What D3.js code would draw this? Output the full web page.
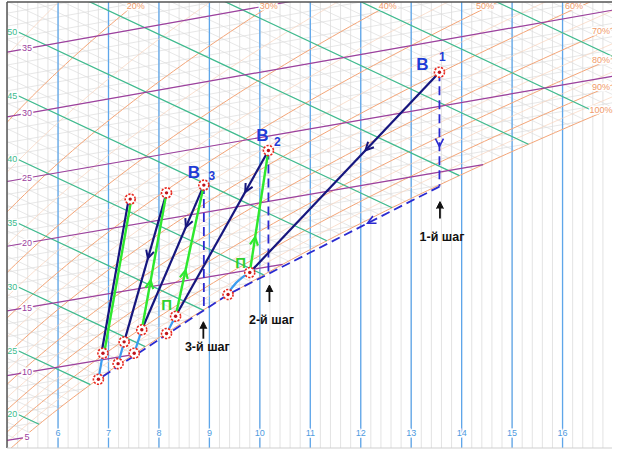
<!DOCTYPE html>
<html><head><meta charset="utf-8">
<script src="https://cdn.jsdelivr.net/npm/d3@7/dist/d3.min.js"></script>
<style>body{margin:0;background:#fff}svg{display:block}</style>
</head><body>
<svg id="c" width="624" height="452"></svg>
<script>
// ---------------- data ----------------
const moistureTicks = [6,7,8,9,10,11,12,13,14,15,16];           // d, g/kg
const tempLabels = [5,10,15,20,25,30,35];                         // t, °C
const enthalpyLabels = [20,25,30,35,40,45,50];                    // i, kJ/kg
const rhTopLabels = [20,30,40,50,60];                             // %
const rhSideLabels = [70,80,90,100];                              // %
// process state points: moisture content d (g/kg) and temperature t (°C)
const pointNames = ["B1","B2","B3","P4","P5","П1","П2","П3","П4","П5","S1","S2","S3","S4","S5","C1","V2","V3"];
const pointD = [13.56,10.17,8.89,8.15,7.43, 9.80,8.33,7.66,7.31,6.89, 9.37,8.15,7.51,7.19,6.80, 13.56,10.17,8.89];
const pointT = [27.6,23.9,22.1,22.0,22.0, 14.8,12.4,11.8,11.1,10.5, 13.4,11.2,10.1,9.5,8.55, 18.9,14.4,12.5];
const markerNames = ["B1","B2","B3","P4","P5","П1","П2","П3","П4","П5","S1","S2","S3","S4","S5"];
// [from, to, arrow position along segment]
const coolingLines = [["B1","П1",0.39],["B2","П2",0.25],["B3","П3",0.29],["P4","П4",0.44],["P5","П5",null]];
const heatingLines = [["П1","B2",0.29],["П2","B3",0.35],["П3","P4",0.36],["П5","P5",null]];
const humidLines = [["S1","П1"],["S2","П2"],["S3","П3"],["S4","П4"],["S5","П5"]];
const dashedPath = ["C1","S1","S5"];
const dashedVerticals = [["B1","C1",0.65],["B2","V2",null],["B3","V3",null]];
const stepNames = ["1-й шаг","2-й шаг","3-й шаг"];
const stepD = [13.57,10.19,8.88];
const stepT = [17.75,13.59,11.63];

// ---------------- psychrometrics ----------------
const P = 101.325;
const psat = t => 0.6112*Math.exp(17.62*t/(243.12+t));
const enth = (t,d) => 1.006*t + d*(2501+1.86*t)/1000;
const tOf = (i,d) => (i - 2.501*d)/(1.006 + 0.00186*d);
function dRH(t,phi){
  const ps = psat(t-0.25);
  const dPhi = 622*phi*ps/(P - phi*ps), dMu = 622*phi*ps/(P - ps);
  return 1.3*dPhi - 0.3*dMu;
}
const dSat = t => dRH(t,1);
const K = 1.86;

const x = d3.scaleLinear().domain([5,17]).range([7.6, 7.6+12*50.45]);
const y = d3.scaleLinear().domain([0,40]).range([545.9, 545.9-40*12.75]);
const pT = (d,t) => [x(d), y(enth(t,d) - K*d)];
const pI = (d,i) => [x(d), y(i - K*d)];
const pt = {};
pointNames.forEach((n,k)=> pt[n] = pT(pointD[k], pointT[k]));

function dSatForI(i){
  let lo=0, hi=40;
  for(let k=0;k<60;k++){const m=(lo+hi)/2; if(dSat(tOf(i,m))>m) lo=m; else hi=m;}
  return lo;
}

const svg = d3.select("#c");
svg.append("rect").attr("width",624).attr("height",452).attr("fill","#fff");
svg.append("defs").append("clipPath").attr("id","plot")
  .append("rect").attr("x",7).attr("y",2).attr("width",605).attr("height",446);
const g = svg.append("g").attr("clip-path","url(#plot)");
const line = d3.line();
const Y0 = 2, Y1 = 448;

d3.range(25,86).map(k=>k/5).forEach(d=>{
  g.append("line").attr("x1",x(d)).attr("x2",x(d)).attr("y1",Y0).attr("y2",Y1)
   .attr("stroke","#dcdcdc").attr("stroke-width",0.8);
});
d3.range(-5,51).forEach(t=>{
  const d1 = Math.min(17.5, dSat(t)); if(d1<4.5) return;
  g.append("path").attr("d",line([pT(4.5,t),pT(d1,t)])).attr("fill","none")
   .attr("stroke","#dcdcdc").attr("stroke-width",0.7);
});
d3.range(0,110).forEach(i=>{
  const d1 = Math.min(17.5,dSatForI(i)); if(d1<4.5) return;
  g.append("path").attr("d",line([pI(4.5,i),pI(d1,i)])).attr("fill","none")
   .attr("stroke","#dcdcdc").attr("stroke-width",0.7);
});
moistureTicks.forEach(d=>{
  g.append("line").attr("x1",x(d)).attr("x2",x(d)).attr("y1",Y0).attr("y2",Y1)
   .attr("stroke","#5ea6ea").attr("stroke-width",1.3);
});
function rhPath(phi){
  return d3.range(-10,60,0.25).map(t=>pT(dRH(t,phi/100),t));
}
d3.range(15,100,10).forEach(phi=>{
  g.append("path").attr("d",line(rhPath(phi))).attr("fill","none")
   .attr("stroke","#f8d2bc").attr("stroke-width",0.7);
});
d3.range(10,101,10).forEach(phi=>{
  g.append("path").attr("d",line(rhPath(phi))).attr("fill","none")
   .attr("stroke","#f4a679").attr("stroke-width",1);
});
d3.range(10,101,5).forEach(i=>{
  const d1 = Math.min(17.5,dSatForI(i)); if(d1<5.22) return;
  g.append("path").attr("d",line([pI(5.22,i),pI(d1,i)])).attr("fill","none")
   .attr("stroke","#3dbb8e").attr("stroke-width",1.2);
});
d3.range(0,51,5).forEach(t=>{
  const d1 = Math.min(17.5,dSat(t)); if(d1<4.5) return;
  g.append("path").attr("d",line([pT(4.5,t),pT(d1,t)])).attr("fill","none")
   .attr("stroke","#9c3f9e").attr("stroke-width",1.2);
});

const lab = svg.append("g").attr("font-family","Liberation Sans, Arial, sans-serif").attr("font-size",9);
function haloText(xx,yy,txt,col){
  lab.append("text").attr("x",xx).attr("y",yy).attr("text-anchor","middle").attr("dominant-baseline","central")
    .attr("fill",col).attr("stroke","#fff").attr("stroke-width",3).attr("paint-order","stroke").text(txt);
}
moistureTicks.forEach(d=> haloText(x(d), 433, d, "#4f9be0"));
tempLabels.forEach(t=>{ const p=pT(5.385,t); haloText(p[0],p[1],t,"#9c3f9e"); });
enthalpyLabels.forEach(i=>{ const p=pI(5.21,i); haloText(p[0]-6,p[1],i,"#3dbb8e"); });
rhTopLabels.forEach(phi=>{
  const pts = rhPath(phi); let best=pts[0];
  pts.forEach(p=>{ if(Math.abs(p[1]-9)<Math.abs(best[1]-9)) best=p; });
  haloText(best[0]+4, 6, phi+"%", "#f09a6a");
});
rhSideLabels.forEach(phi=>{
  const pts = rhPath(phi); let best=pts[0];
  pts.forEach(p=>{ if(Math.abs(p[0]-592)<Math.abs(best[0]-592)) best=p; });
  haloText(601, best[1]-6, phi+"%", "#f09a6a");
});

svg.append("line").attr("x1",7).attr("x2",7).attr("y1",2).attr("y2",448).attr("stroke","#555").attr("stroke-width",1.5);
svg.append("line").attr("x1",7).attr("x2",612).attr("y1",2).attr("y2",2).attr("stroke","#555").attr("stroke-width",1.5);
svg.append("line").attr("x1",7).attr("x2",612).attr("y1",448).attr("y2",448).attr("stroke","#cfcfcf").attr("stroke-width",1);

// ---------------- process overlay ----------------
const ov = svg.append("g");
function arrow(A,B,f,col,w){
  const dx=B[0]-A[0], dy=B[1]-A[1], L=Math.hypot(dx,dy), ux=dx/L, uy=dy/L;
  const P0=[A[0]+dx*f, A[1]+dy*f];
  const a=[P0[0]-8*ux+4*uy, P0[1]-8*uy-4*ux], b=[P0[0]-8*ux-4*uy, P0[1]-8*uy+4*ux];
  ov.append("path").attr("d",line([a,P0,b])).attr("fill","none").attr("stroke",col)
    .attr("stroke-width",w).attr("stroke-linejoin","miter");
}
const DASH="#2a2ad0", NAVY="#16167e", GREEN="#2ee82e", LBLUE="#3b9cf0";
ov.append("path").attr("d",line(dashedPath.map(n=>pt[n]))).attr("fill","none").attr("stroke",DASH)
  .attr("stroke-width",1.8).attr("stroke-dasharray","9,5");
arrow(pt.C1,pt.S1,0.34,DASH,1.6);
dashedVerticals.forEach(([a,b,f])=>{
  ov.append("path").attr("d",line([pt[a],pt[b]])).attr("fill","none").attr("stroke",DASH)
    .attr("stroke-width",1.8).attr("stroke-dasharray","9,5");
  if(f!=null) arrow(pt[a],pt[b],f,DASH,1.6);
});
humidLines.forEach(([a,b],k)=>{
  const A=pt[a], B=pt[b];
  if(k===0){
    const c=[(A[0]+B[0])/2-5,(A[1]+B[1])/2-2];
    ov.append("path").attr("d",`M${A}Q${c} ${B}`).attr("fill","none").attr("stroke",LBLUE).attr("stroke-width",2.2);
  } else ov.append("path").attr("d",line([A,B])).attr("fill","none").attr("stroke",LBLUE).attr("stroke-width",2.2);
});
coolingLines.forEach(([a,b,f])=>{
  const off = f==null ? -1.5 : 0;
  const A=[pt[a][0]+off,pt[a][1]], B=[pt[b][0]+off,pt[b][1]];
  ov.append("path").attr("d",line([A,B])).attr("fill","none").attr("stroke",NAVY).attr("stroke-width",2.2);
  if(f!=null) arrow(A,B,f,NAVY,2);
});
heatingLines.forEach(([a,b,f])=>{
  const off = f==null ? 1.2 : 0;
  const A=[pt[a][0]+off,pt[a][1]], B=[pt[b][0]+off,pt[b][1]];
  ov.append("path").attr("d",line([A,B])).attr("fill","none").attr("stroke",GREEN).attr("stroke-width",2.4);
  if(f!=null) arrow(A,B,f,GREEN,2.2);
});
markerNames.forEach(n=>{
  const p=pt[n];
  ov.append("circle").attr("cx",p[0]).attr("cy",p[1]).attr("r",5).attr("fill","#fff")
    .attr("stroke","#e8281e").attr("stroke-width",1.6).attr("stroke-dasharray","2.2,1.3");
  ov.append("circle").attr("cx",p[0]).attr("cy",p[1]).attr("r",1.7).attr("fill","#c0141a");
});
const tx = ov.append("g").attr("font-family","Liberation Sans, Arial, sans-serif").attr("font-weight","bold");
function T(xx,yy,s,size,col){
  tx.append("text").attr("x",xx).attr("y",yy).attr("text-anchor","middle").attr("dominant-baseline","central")
    .attr("font-size",size).attr("fill",col).text(s);
}
const BL="#1f3cd6";
T(pt.B1[0]-17, pt.B1[1]-8, "В", 17, BL); T(pt.B1[0]+3, pt.B1[1]-15, "1", 12, BL);
T(pt.B2[0]-6, pt.B2[1]-15, "В", 17, BL); T(pt.B2[0]+9, pt.B2[1]-8, "2", 12, BL);
T(pt.B3[0]-10, pt.B3[1]-13, "В", 17, BL); T(pt.B3[0]+8, pt.B3[1]-9, "3", 12, BL);
T(pt["П1"][0]-9, pt["П1"][1]-10, "П", 15, "#2fd02f");
T(pt["П2"][0]-9, pt["П2"][1]-12, "П", 15, "#2fd02f");
const textOff=[35,35,25];
stepNames.forEach((s,k)=>{
  const p = pT(stepD[k], stepT[k]);
  ov.append("line").attr("x1",p[0]).attr("x2",p[0]).attr("y1",p[1]+2).attr("y2",p[1]+17)
    .attr("stroke","#111").attr("stroke-width",1.8);
  ov.append("path").attr("d",line([[p[0]-3.5,p[1]+7],[p[0],p[1]],[p[0]+3.5,p[1]+7]])).attr("fill","#111").attr("stroke","#111").attr("stroke-width",1);
  T(p[0]+(k===2?4:2), p[1]+textOff[k], s, 12.5, "#111");
});
</script>
</body></html>
